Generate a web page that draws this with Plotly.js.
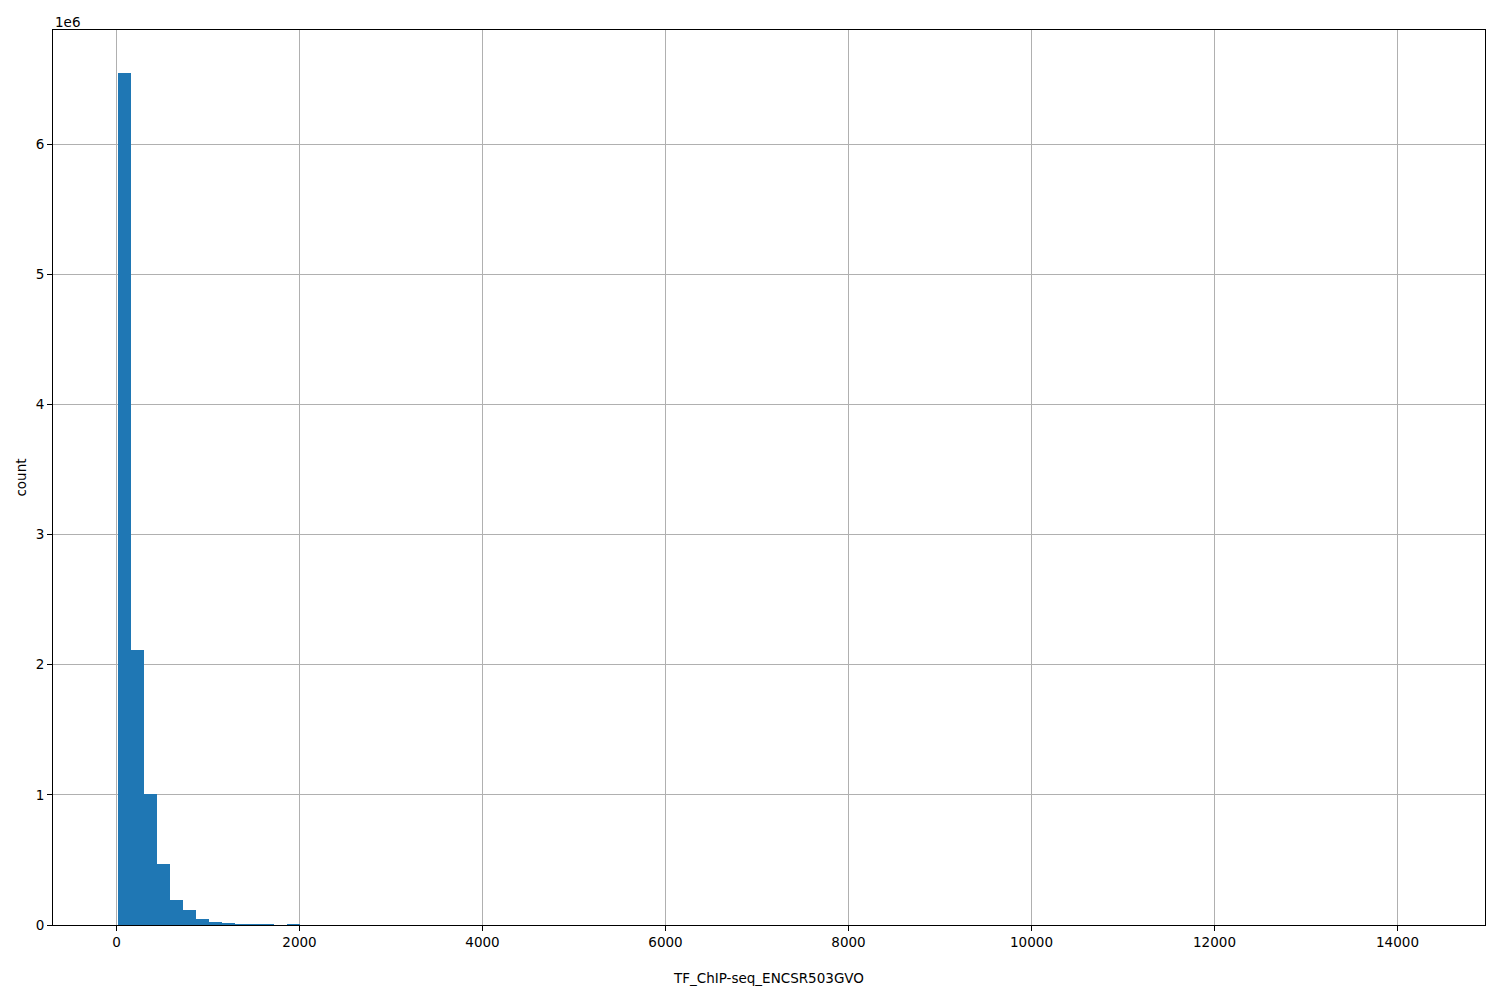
<!DOCTYPE html>
<html>
<head>
<meta charset="utf-8">
<script src="https://cdn.plot.ly/plotly-3.0.1.min.js"></script>
<style>html,body{margin:0;padding:0;background:#fff;}#chart{width:1500px;height:1000px;}</style>
</head>
<body>
<div id="chart"></div>
<script>
// Histogram of TF_ChIP-seq_ENCSR503GVO (100 equal-width bins)
const binStart = 17.5;
const binEnd = 14245;
const nBins = 100;
const counts = [
  6550000, 2115000, 1008000, 469000, 192000, 115000, 46000, 23000, 15000, 10000,
  9000, 8000, 1500, 8000, 2500, 1800, 1300, 1000, 800, 650,
  520, 430, 360, 300, 250, 210, 180, 150, 130, 110,
  95, 82, 70, 61, 53, 46, 40, 35, 31, 27,
  24, 21, 19, 17, 15, 13, 12, 11, 10, 9,
  8, 7, 7, 6, 6, 5, 5, 4, 4, 4,
  3, 3, 3, 3, 2, 2, 2, 2, 2, 2,
  1, 1, 1, 1, 1, 1, 1, 1, 1, 0,
  1, 0, 1, 0, 0, 1, 0, 0, 1, 0,
  0, 0, 1, 0, 0, 0, 0, 0, 0, 1
];
const xTicks = [0, 2000, 4000, 6000, 8000, 10000, 12000, 14000];
const yTicks = [0, 1e6, 2e6, 3e6, 4e6, 5e6, 6e6];
const yTickText = ['0', '1', '2', '3', '4', '5', '6'];
const xLabel = 'TF_ChIP-seq_ENCSR503GVO';
const yLabel = 'count';
const offsetLabel = '1e6';

const binWidth = (binEnd - binStart) / nBins;
const centers = counts.map((_, i) => binStart + binWidth * (i + 0.5));

const span = binEnd - binStart;
const xRange = [binStart - 0.05 * span, binEnd + 0.05 * span];
const yMax = Math.max(...counts) * 1.05;

const font = {family: 'DejaVu Sans, sans-serif', size: 13.5, color: '#000'};

Plotly.newPlot('chart', [{
  type: 'bar',
  x: centers,
  y: counts,
  width: binWidth,
  marker: {color: '#1f77b4', line: {width: 0}},
  hoverinfo: 'x+y'
}], {
  width: 1500, height: 1000,
  margin: {l: 53, r: 15, t: 30, b: 75, pad: 0},
  paper_bgcolor: '#fff', plot_bgcolor: '#fff',
  font: font,
  showlegend: false,
  bargap: 0,
  xaxis: {
    range: xRange, tickvals: xTicks, ticktext: xTicks.map(String),
    showgrid: true, gridcolor: '#b0b0b0', gridwidth: 1,
    zeroline: false, showline: true, linecolor: '#000', linewidth: 1, mirror: true,
    ticks: 'outside', ticklen: 5, tickwidth: 1, tickcolor: '#000',
    tickfont: font, layer: 'above traces', automargin: false,
    title: {text: xLabel, font: font, standoff: 24}
  },
  yaxis: {
    range: [0, yMax], tickvals: yTicks, ticktext: yTickText,
    showgrid: true, gridcolor: '#b0b0b0', gridwidth: 1,
    zeroline: false, showline: true, linecolor: '#000', linewidth: 1, mirror: true,
    ticks: 'outside', ticklen: 5, tickwidth: 1, tickcolor: '#000',
    tickfont: font, layer: 'above traces', automargin: false,
    title: {text: yLabel, font: font, standoff: 5}
  },
  annotations: [{
    text: offsetLabel, xref: 'paper', yref: 'paper', x: 0, y: 1,
    xanchor: 'left', yanchor: 'bottom', yshift: -2, showarrow: false, font: font
  }]
}, {displayModeBar: false, staticPlot: true});
</script>
</body>
</html>
